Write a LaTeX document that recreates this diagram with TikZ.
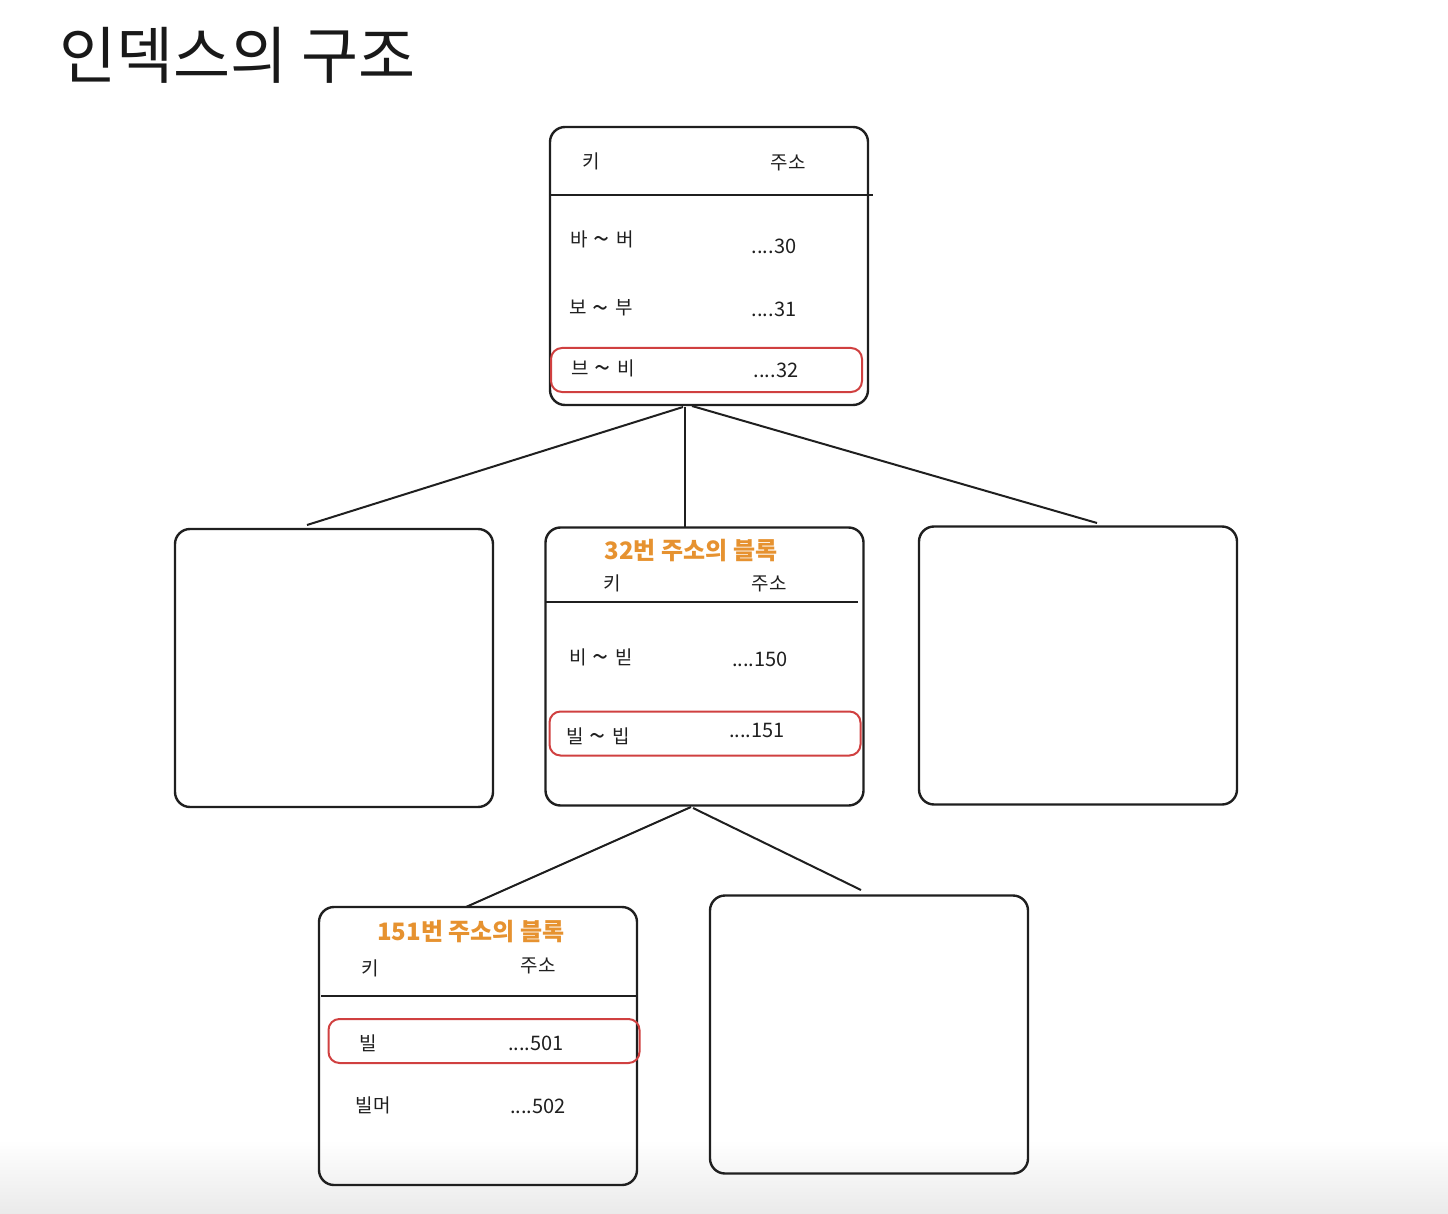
\documentclass[tikz,border=0pt]{standalone}
\usepackage{fontspec}
\setmainfont{Noto Sans CJK KR}
\newcommand{\tld}{\hspace{6pt}\raisebox{-3.5pt}{\fontsize{29}{22}\selectfont\textasciitilde}\hspace{6pt}}
\begin{document}
\begin{tikzpicture}[x=1pt,y=-1pt,
  blk/.style={draw=black!88, line width=2.4pt, rounded corners=15pt, minimum width=318pt, minimum height=278pt, inner sep=0pt},
  hl/.style={draw={rgb,255:red,208;green,64;blue,64}, line width=2pt, rounded corners=11pt, minimum width=311pt, minimum height=44pt, inner sep=0pt},
  div/.style={line width=2.4pt, draw=black!88},
  conn/.style={line width=2pt, draw=black!88},
  txt/.style={font=\fontsize{19}{22}\selectfont, text=black!88, inner sep=0pt},
  num/.style={font=\fontsize{20}{22}\selectfont, text=black!88, inner sep=0pt},
  ttl/.style={font=\fontsize{24}{27}\selectfont\bfseries, text={rgb,255:red,230;green,146;blue,48}, inner sep=0pt}
]
\useasboundingbox (0,0) rectangle (1448,1214);
\shade[top color=white, bottom color={rgb,255:red,234;green,234;blue,234}] (0,1140) rectangle (1448,1214);

% title
\node[anchor=west, inner sep=0pt, font=\fontsize{62}{66}\selectfont, text=black!90] (title) at (59,55) {인덱스의 구조};

% boxes
\node[blk] (top) at (709,266) {};
\node[blk] (ml) at (334,668) {};
\node[blk] (mc) at (704.5,666.5) {};
\node[blk] (mr) at (1078,665.5) {};
\node[blk] (bl) at (478,1046) {};
\node[blk] (br) at (869,1034.5) {};

% top box content
\draw[div] (550,195) -- (873,195);
\node[txt] (t1) at (591,161) {키};
\node[txt] (t2) at (788,163) {주소};
\node[txt] (t3) at (602,240) {바\tld 버};
\node[num] (t4) at (774,246) {....30};
\node[txt] (t5) at (601,309) {보\tld 부};
\node[num] (t6) at (774,309) {....31};
\node[hl] (th) at (706.5,370) {};
\node[txt] (t7) at (603,369) {브\tld 비};
\node[num] (t8) at (776,370) {....32};

% middle center content
\node[ttl] (m0) at (691,551) {32번 주소의 블록};
\draw[div] (546,602) -- (858,602);
\node[txt] (m1) at (612,583) {키};
\node[txt] (m2) at (769,584) {주소};
\node[txt] (m3) at (601,658) {비\tld 빋};
\node[num] (m4) at (760,659) {....150};
\node[hl] (mh) at (705,733.5) {};
\node[txt] (m5) at (598,737) {빌\tld 빕};
\node[num] (m6) at (757,730) {....151};

% bottom left content
\node[ttl] (b0) at (471,932) {151번 주소의 블록};
\draw[div] (321,996) -- (636,996);
\node[txt] (b1) at (370,968) {키};
\node[txt] (b2) at (538,966) {주소};
\node[hl] (bh) at (484,1041) {};
\node[txt] (b3) at (368,1043) {빌};
\node[num] (b4) at (536,1043) {....501};
\node[txt] (b5) at (373,1105) {빌머};
\node[num] (b6) at (538,1106) {....502};

% connector end points
\coordinate (c1) at (683,407);
\coordinate (c2) at (685,407);
\coordinate (c3) at (692,406);
\coordinate (e1) at (307,525);
\coordinate (e2) at (685,527);
\coordinate (e3) at (1097,523);
\coordinate (c4) at (691,807);
\coordinate (c5) at (693,808);
\coordinate (e4) at (466,907);
\coordinate (e5) at (861,890);

\draw[conn] (c1) -- (e1);
\draw[conn] (c2) -- (e2);
\draw[conn] (c3) -- (e3);
\draw[conn] (c4) -- (e4);
\draw[conn] (c5) -- (e5);
\end{tikzpicture}
\end{document}
